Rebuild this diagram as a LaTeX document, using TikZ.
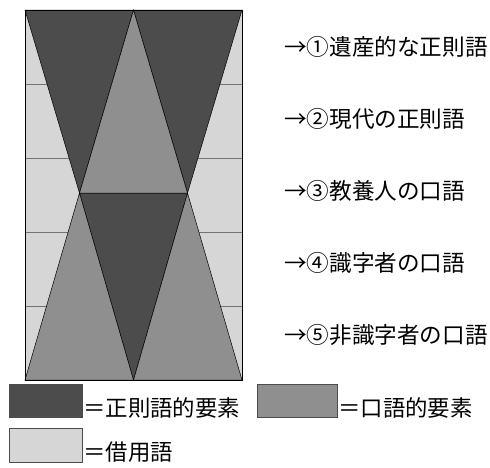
\documentclass[tikz,border=0pt]{standalone}
\usepackage{fontspec}
\setmainfont{Noto Sans CJK JP}
\usetikzlibrary{calc}
\definecolor{seisoku}{gray}{0.30}
\definecolor{kogo}{gray}{0.56}
\definecolor{shakuyo}{gray}{0.84}
\tikzset{
  bandline/.style={draw=black!55, line width=0.4pt},
  tri/.style={draw=black, line width=0.5pt, line join=miter},
  levelname/.style={anchor=west, inner sep=0pt, font=\fontsize{22.6}{25}\selectfont},
  keytext/.style={anchor=base west, inner sep=0pt, font=\fontsize{22.4}{25}\selectfont},
  keybox/.style={draw=black!70, line width=0.5pt}
}

\begin{document}
\begin{tikzpicture}[x=1pt, y=-1pt]
             \useasboundingbox (0,0) rectangle (490,467);
             % corners of the hourglass
             \coordinate (tl) at (25,10);
             \coordinate (tm) at (133.5,10);
             \coordinate (tr) at (242,10);
             \coordinate (wl) at (79.5,193);
             \coordinate (wr) at (187.5,193);
             \coordinate (bl) at (25,380);
             \coordinate (bm) at (133.5,380);
             \coordinate (br) at (242,380);
             % borrowed words in the background
             \fill [shakuyo](tl) rectangle (br);
             \foreach \y in {84,158,232,306}
                 \draw [bandline](25,\y) -- (242,\y);
             % normative elements
             \filldraw [tri, fill=seisoku](tl) -- (tm) -- (wl) -- cycle;
             \filldraw [tri, fill=seisoku](tm) -- (tr) -- (wr) -- cycle;
             \filldraw [tri, fill=seisoku](wl) -- (wr) -- (bm) -- cycle;
             % spoken elements
             \filldraw [tri, fill=kogo](tm) -- (wr) -- (wl) -- cycle;
             \filldraw [tri, fill=kogo](wl) -- (bm) -- (bl) -- cycle;
             \filldraw [tri, fill=kogo](wr) -- (br) -- (bm) -- cycle;
             \draw [line width=0.6pt](tl) rectangle (br);
             % levels
             \node [levelname] (lv1) at (284,47) {→①遺産的な正則語};
             \node [levelname] (lv2) at (284,119) {→②現代の正則語};
             \node [levelname] (lv3) at (284,191) {→③教養人の口語};
             \node [levelname] (lv4) at (284,263) {→④識字者の口語};
             \node [levelname] (lv5) at (284,335) {→⑤非識字者の口語};
             % legend
             \filldraw [keybox, fill=seisoku](9,384) rectangle (82,417);
             \node [keytext] (key1) at (83,416) {＝正則語的要素};
             \filldraw [keybox, fill=kogo](257,384) rectangle (337,417);
             \node [keytext] (key2) at (338,416) {＝口語的要素};
             \filldraw [keybox, fill=shakuyo](9,428) rectangle (82,462);
             \node [keytext] (key3) at (83,460) {＝借用語};
         \end{tikzpicture}
\end{document}
